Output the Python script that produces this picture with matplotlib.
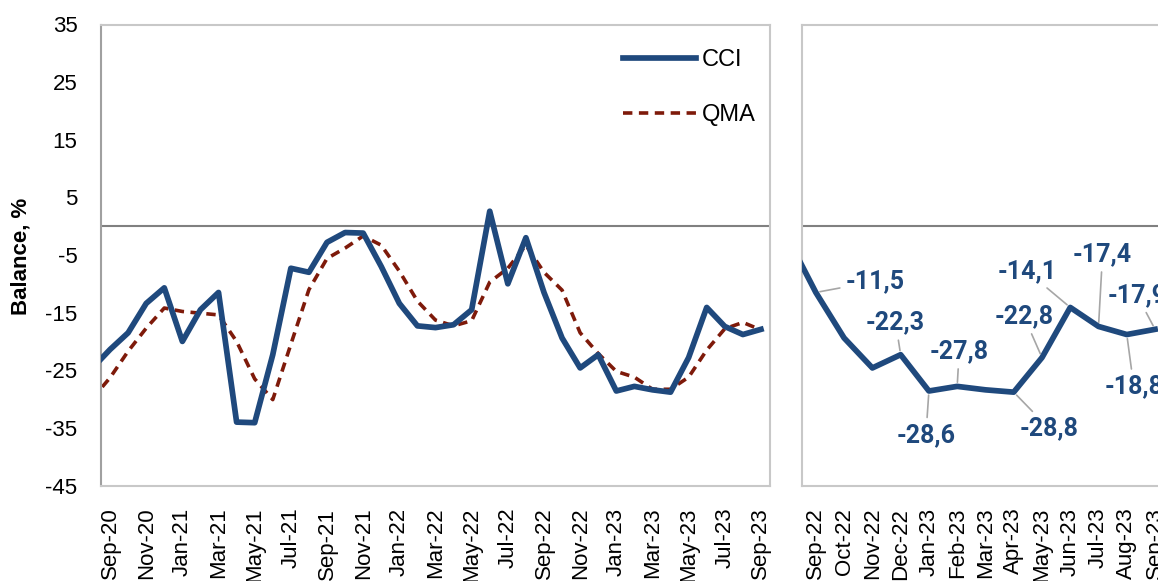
import numpy as np
import pandas as pd
import matplotlib
matplotlib.use('Agg')
import matplotlib.pyplot as plt

plt.rcParams['font.family'] = ['Liberation Sans', 'DejaVu Sans']
plt.rcParams['axes.unicode_minus'] = False

# monthly data, Aug-20 .. Sep-23 (first point sits just outside the axis)
months = list(pd.date_range('2020-08-01', periods=38, freq='MS').strftime('%b-%y'))
cci = [-24.7, -21.4, -18.5, -13.4, -10.7, -20.0, -14.5, -11.5, -34.0, -34.1,
       -22.3, -7.3, -8.0, -2.8, -1.1, -1.2, -7.0, -13.4, -17.3, -17.6,
       -17.1, -14.5, 2.6, -10.0, -2.0, -11.5, -19.4, -24.6, -22.3, -28.6,
       -27.8, -28.4, -28.8, -22.8, -14.1, -17.4, -18.8, -17.9]
qma = [-30.0, -26.3, -21.7, -17.7, -14.2, -14.8, -15.1, -15.4, -20.0, -26.5,
       -30.1, -20.5, -11.0, -5.6, -3.8, -1.7, -3.3, -7.8, -13.0, -16.3,
       -17.3, -16.4, -9.7, -7.3, -3.3, -8.0, -11.1, -18.5, -22.1, -25.2,
       -26.2, -28.3, -28.3, -26.2, -21.5, -17.8, -16.7, -18.0]
x = np.arange(len(cci)) - 1   # Sep-20 -> 0

# labelled points on the right panel and where their labels go (pixels)
lab_months = ['Sep-22', 'Dec-22', 'Jan-23', 'Feb-23', 'Apr-23',
              'May-23', 'Jun-23', 'Jul-23', 'Aug-23', 'Sep-23']
lab_offsets = [(59, 11), (-5, 32), (-3, -44), (2, 35), (35, -36),
               (-18, 41), (-43, 36), (4, 72), (7, -52), (-18, 34)]

blue = '#1F497D'
red = '#7E1A0A'
W, H = 1158, 581

fig = plt.figure(figsize=(W / 100, H / 100), dpi=100)
ax1 = fig.add_axes([101 / W, 95.5 / H, 669 / W, 461 / H])
ax2 = fig.add_axes([801.7 / W, 95.5 / H, 367.5 / W, 461 / H])

for ax in (ax1, ax2):
    ax.axhline(0, color='#808080', lw=1.5, zorder=1)
    ax.set_ylim(-45, 35)
    ax.set_yticks(range(-45, 36, 10))
    ax.tick_params(length=0, labelsize=16)
    for s in ax.spines.values():
        s.set_color('#C8C8C8')
        s.set_linewidth(1.5)

ax1.plot(x, cci, color=blue, lw=4.1, solid_joinstyle='round', label='CCI', zorder=3)
ax1.plot(x, qma, color=red, lw=2.6, linestyle=(0, (2.6, 1.8)), label='QMA', zorder=2)
ax1.set_xlim(-0.5, 36.5)
ax1.set_xticks(range(0, 37, 2))
ax1.set_xticklabels(months[1::2], rotation=90)
ax1.tick_params(axis='y', pad=17)
ax1.tick_params(axis='x', pad=16)
ax1.spines['left'].set_color('#A0A0A0')
ax1.legend(loc='upper left', bbox_to_anchor=(0.78, 0.947), frameon=False,
           fontsize=17, handlelength=3.1, handletextpad=0.25, labelspacing=1.4,
           borderpad=0, borderaxespad=0)

ax2.plot(x, cci, color=blue, lw=4.1, solid_joinstyle='round', zorder=3)
ax2.set_xlim(23.5, 36.5)
ax2.set_xticks(range(24, 37))
ax2.set_xticklabels(months[25:], rotation=90)
ax2.tick_params(axis='x', pad=16)
ax2.set_yticklabels([])

for m, (dx, dy) in zip(lab_months, lab_offsets):
    i = months.index(m)
    v = cci[i]
    ax2.annotate(f'{v:.1f}'.replace('.', ','), xy=(x[i], v), xytext=(dx, dy),
                 textcoords='offset pixels', ha='center', va='center',
                 color=blue, fontsize=18, fontweight='bold', family=['Roboto', 'DejaVu Sans'],
                 arrowprops=dict(arrowstyle='-', color='#A6A6A6', lw=1.2,
                                 shrinkA=2, shrinkB=3),
                 annotation_clip=False, zorder=4)

fig.text(21 / W, 0.558, 'Balance, %', rotation=90, ha='center', va='center',
         fontsize=16, fontweight='bold')

fig.savefig('out.png', dpi=100)
